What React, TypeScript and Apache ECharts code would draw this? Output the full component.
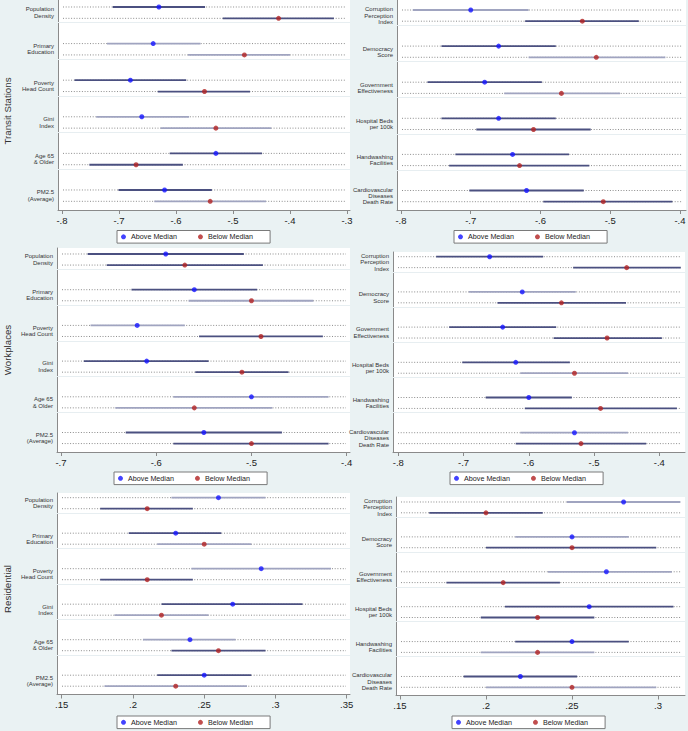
import React, { useEffect, useRef } from "react";
import * as echarts from "echarts";

// ---------- labels ----------
const rowTitles = ["Transit Stations", "Workplaces", "Residential"];
const socioLabels = [
  "Population\nDensity",
  "Primary\nEducation",
  "Poverty\nHead Count",
  "Gini\nIndex",
  "Age 65\n& Older",
  "PM2.5\n(Average)",
];
const healthLabels = [
  "Corruption\nPerception\nIndex",
  "Democracy\nScore",
  "Government\nEffectiveness",
  "Hospital Beds\nper 100k",
  "Handwashing\nFacilities",
  "Cardiovascular\nDiseases\nDeath Rate",
];
const legendNames = ["Above Median", "Below Median"];

// ---------- tick labels ----------
const ticksTransitSocio = [-0.8, -0.7, -0.6, -0.5, -0.4, -0.3];
const ticksTransitHealth = [-0.8, -0.7, -0.6, -0.5, -0.4];
const ticksWorkSocio = [-0.7, -0.6, -0.5, -0.4];
const ticksWorkHealth = [-0.8, -0.7, -0.6, -0.5, -0.4];
const ticksResSocio = [0.15, 0.2, 0.25, 0.3, 0.35];
const ticksResHealth = [0.15, 0.2, 0.25, 0.3];

// ---------- Transit Stations, socio-economic ----------
const transitSocioAbove = [-0.63, -0.64, -0.68, -0.66, -0.53, -0.62];
const transitSocioAboveCI = [[-0.711, -0.549], [-0.721, -0.557], [-0.778, -0.582], [-0.74, -0.577], [-0.611, -0.449], [-0.701, -0.537]];
const transitSocioBelow = [-0.42, -0.48, -0.55, -0.53, -0.67, -0.54];
const transitSocioBelowCI = [[-0.518, -0.323], [-0.579, -0.4], [-0.632, -0.47], [-0.627, -0.433], [-0.752, -0.588], [-0.638, -0.442]];
const transitSocioAboveDark = [1, 0, 1, 0, 1, 1];
const transitSocioBelowDark = [1, 0, 1, 0, 1, 0];

// ---------- Transit Stations, health / governance ----------
const transitHealthAbove = [-0.7, -0.66, -0.68, -0.66, -0.64, -0.62];
const transitHealthAboveCI = [[-0.783, -0.617], [-0.742, -0.578], [-0.762, -0.598], [-0.742, -0.578], [-0.722, -0.559], [-0.702, -0.538]];
const transitHealthBelow = [-0.54, -0.52, -0.57, -0.61, -0.63, -0.51];
const transitHealthBelowCI = [[-0.622, -0.459], [-0.617, -0.421], [-0.652, -0.486], [-0.692, -0.528], [-0.731, -0.53], [-0.596, -0.411]];
const transitHealthAboveDark = [0, 1, 1, 1, 1, 1];
const transitHealthBelowDark = [1, 0, 0, 1, 1, 1];

// ---------- Workplaces, socio-economic ----------
const workSocioAbove = [-0.59, -0.56, -0.62, -0.61, -0.5, -0.55];
const workSocioAboveCI = [[-0.672, -0.508], [-0.626, -0.494], [-0.669, -0.57], [-0.676, -0.545], [-0.582, -0.419], [-0.632, -0.468]];
const workSocioBelow = [-0.57, -0.5, -0.49, -0.51, -0.56, -0.5];
const workSocioBelowCI = [[-0.652, -0.488], [-0.566, -0.435], [-0.555, -0.425], [-0.559, -0.461], [-0.643, -0.478], [-0.582, -0.419]];
const workSocioAboveDark = [1, 1, 0, 1, 0, 1];
const workSocioBelowDark = [1, 0, 1, 1, 0, 1];

// ---------- Workplaces, health / governance ----------
const workHealthAbove = [-0.66, -0.61, -0.64, -0.62, -0.6, -0.53];
const workHealthAboveCI = [[-0.742, -0.578], [-0.692, -0.528], [-0.722, -0.558], [-0.702, -0.537], [-0.666, -0.534], [-0.613, -0.448]];
const workHealthBelow = [-0.45, -0.55, -0.48, -0.53, -0.49, -0.52];
const workHealthBelowCI = [[-0.532, -0.367], [-0.648, -0.451], [-0.562, -0.396], [-0.613, -0.448], [-0.606, -0.373], [-0.62, -0.42]];
const workHealthAboveDark = [1, 0, 1, 1, 1, 0];
const workHealthBelowDark = [1, 1, 1, 0, 1, 1];

// ---------- Residential, socio-economic ----------
const resSocioAbove = [0.26, 0.23, 0.29, 0.27, 0.24, 0.25];
const resSocioAboveCI = [[0.227, 0.293], [0.197, 0.262], [0.241, 0.339], [0.22, 0.319], [0.207, 0.272], [0.217, 0.283]];
const resSocioBelow = [0.21, 0.25, 0.21, 0.22, 0.26, 0.23];
const resSocioBelowCI = [[0.177, 0.242], [0.217, 0.283], [0.177, 0.242], [0.187, 0.253], [0.227, 0.293], [0.18, 0.28]];
const resSocioAboveDark = [0, 1, 0, 1, 0, 1];
const resSocioBelowDark = [1, 0, 1, 0, 1, 0];

// ---------- Residential, health / governance ----------
const resHealthAbove = [0.28, 0.25, 0.27, 0.26, 0.25, 0.22];
const resHealthAboveCI = [[0.247, 0.313], [0.217, 0.283], [0.236, 0.308], [0.211, 0.309], [0.217, 0.283], [0.187, 0.253]];
const resHealthBelow = [0.2, 0.25, 0.21, 0.23, 0.23, 0.25];
const resHealthBelowCI = [[0.167, 0.233], [0.2, 0.299], [0.177, 0.243], [0.197, 0.263], [0.197, 0.263], [0.2, 0.299]];
const resHealthAboveDark = [0, 0, 0, 1, 1, 1];
const resHealthBelowDark = [1, 1, 1, 1, 0, 0];

const FONT = "Liberation Sans";
const BLUE = "#1414ff";
const RED = "#b22222";
const CI_DARK = "#4b5080";
const CI_LIGHT = "#a0a4c0";

// panel layout (pixel boxes and axis extents)
const panels = [
  { labels: socioLabels, ticks: ticksTransitSocio, above: transitSocioAbove, aboveCI: transitSocioAboveCI, below: transitSocioBelow, belowCI: transitSocioBelowCI, aDark: transitSocioAboveDark, bDark: transitSocioBelowDark,
    box: { left: 58, top: 0, width: 292, height: 210 }, xMin: -0.807, xMax: -0.2947, yMin: 3.79, yMax: 61.17, leg: { left: 117, top: 230.5 } },
  { labels: healthLabels, ticks: ticksTransitHealth, above: transitHealthAbove, aboveCI: transitHealthAboveCI, below: transitHealthBelow, belowCI: transitHealthBelowCI, aDark: transitHealthAboveDark, bDark: transitHealthBelowDark,
    box: { left: 397, top: 0, width: 289, height: 210 }, xMin: -0.8057, xMax: -0.3914, yMin: 2.93, yMax: 61.1, leg: { left: 454, top: 230.5 } },
  { labels: socioLabels, ticks: ticksWorkSocio, above: workSocioAbove, aboveCI: workSocioAboveCI, below: workSocioBelow, belowCI: workSocioBelowCI, aDark: workSocioAboveDark, bDark: workSocioBelowDark,
    box: { left: 57, top: 248, width: 293, height: 204 }, xMin: -0.7042, xMax: -0.3965, yMin: 4.02, yMax: 61.16, leg: { left: 114, top: 472 } },
  { labels: healthLabels, ticks: ticksWorkHealth, above: workHealthAbove, aboveCI: workHealthAboveCI, below: workHealthBelow, belowCI: workHealthBelowCI, aDark: workHealthAboveDark, bDark: workHealthBelowDark,
    box: { left: 393, top: 252, width: 292, height: 200 }, xMin: -0.8081, xMax: -0.3606, yMin: 4.36, yMax: 61.18, leg: { left: 450, top: 472 } },
  { labels: socioLabels, ticks: ticksResSocio, above: resSocioAbove, aboveCI: resSocioAboveCI, below: resSocioBelow, belowCI: resSocioBelowCI, aDark: resSocioAboveDark, bDark: resSocioBelowDark,
    box: { left: 57, top: 493, width: 293, height: 201.5 }, xMin: 0.1467, xMax: 0.3523, yMin: 4.38, yMax: 61.14, leg: { left: 117, top: 716 } },
  { labels: healthLabels, ticks: ticksResHealth, above: resHealthAbove, aboveCI: resHealthAboveCI, below: resHealthBelow, belowCI: resHealthBelowCI, aDark: resHealthAboveDark, bDark: resHealthBelowDark,
    box: { left: 396, top: 497, width: 289, height: 198.5 }, xMin: 0.1477, xMax: 0.3157, yMin: 4.27, yMax: 61.15, leg: { left: 452, top: 716 } },
];

const titlePos = [
  { x: 7, y: 111 },
  { x: 7, y: 350 },
  { x: 7, y: 589 },
];

const ROW_A = 5.7; // position of "above" row inside a group band of 10
const ROW_B = 8.8; // position of "below" row
const LABEL_MID = (ROW_A + ROW_B) / 2;

function fmtTick(v: number) {
  const s = String(+v.toFixed(3));
  return s.replace(/^(-?)0\./, "$1.");
}

function buildOption() {
  const grid: any[] = [];
  const xAxis: any[] = [];
  const yAxis: any[] = [];
  const series: any[] = [];
  const legend: any[] = [];

  panels.forEach((p, i) => {
    grid.push({
      ...p.box,
      show: true,
      backgroundColor: "#ffffff",
      borderWidth: 0,
      containLabel: false,
      outerBoundsMode: "none",
    });
    xAxis.push({
      type: "value",
      gridIndex: i,
      min: p.xMin,
      max: p.xMax,
      axisLine: { show: true, lineStyle: { color: "#8a8a8a", width: 1 } },
      axisTick: { show: true, length: 4, customValues: p.ticks, lineStyle: { color: "#8a8a8a" } },
      axisLabel: { show: true, customValues: p.ticks, formatter: fmtTick, fontSize: 9.5, fontFamily: FONT, color: "#222", margin: 5 },
      splitLine: { show: false },
    });
    const labelVals = p.labels.map((_, g) => g * 10 + LABEL_MID);
    yAxis.push({
      type: "value",
      gridIndex: i,
      inverse: true,
      min: p.yMin,
      max: p.yMax,
      axisLine: { show: true, lineStyle: { color: "#8a8a8a", width: 1 } },
      axisTick: { show: false },
      splitLine: { show: false },
      axisLabel: {
        show: true,
        customValues: labelVals,
        formatter: (v: number) => p.labels[Math.round((v - LABEL_MID) / 10)] ?? "",
        fontSize: 6,
        lineHeight: 6.4,
        fontFamily: FONT,
        color: "#333",
        margin: 4,
        align: "right",
      },
    });

    const ciData: any[] = [];
    p.aboveCI.forEach((ci, g) => {
      ciData.push([ci[0], ci[1], g * 10 + ROW_A, p.aDark[g]]);
      ciData.push([p.belowCI[g][0], p.belowCI[g][1], g * 10 + ROW_B, p.bDark[g]]);
    });

    series.push({
      type: "custom",
      name: "ci",
      xAxisIndex: i,
      yAxisIndex: i,
      clip: false,
      silent: true,
      encode: { x: [0, 1], y: 2 },
      data: ciData,
      z: 2,
      renderItem: (params: any, api: any) => {
        const lo = api.value(0);
        const hi = api.value(1);
        const y = api.value(2);
        const dark = api.value(3);
        const p1 = api.coord([lo, y]);
        const p2 = api.coord([hi, y]);
        const cs = params.coordSys;
        return {
          type: "group",
          children: [
            {
              type: "line",
              shape: { x1: cs.x + 5, y1: p1[1], x2: cs.x + cs.width - 4, y2: p1[1] },
              style: { stroke: "#8c8c8c", lineWidth: 1, lineDash: [1, 1.7] },
            },
            {
              type: "line",
              shape: { x1: p1[0], y1: p1[1], x2: p2[0], y2: p2[1] },
              style: { stroke: dark ? CI_DARK : CI_LIGHT, lineWidth: 1.8 },
            },
          ],
        };
      },
    });

    series.push({
      type: "scatter",
      name: legendNames[0],
      xAxisIndex: i,
      yAxisIndex: i,
      symbol: "circle",
      symbolSize: 5,
      itemStyle: { color: BLUE },
      z: 3,
      data: p.above.map((v, g) => [v, g * 10 + ROW_A]),
      markLine: {
        silent: true,
        symbol: ["none", "none"],
        label: { show: false },
        lineStyle: { color: "#e7eef1", width: 1, type: "solid" },
        emphasis: { disabled: true },
        data: [10, 20, 30, 40, 50].map((v) => ({ yAxis: v })),
      },
    });
    series.push({
      type: "scatter",
      name: legendNames[1],
      xAxisIndex: i,
      yAxisIndex: i,
      symbol: "circle",
      symbolSize: 5,
      itemStyle: { color: RED },
      z: 3,
      data: p.below.map((v, g) => [v, g * 10 + ROW_B]),
    });

    legend.push({
      left: p.leg.left,
      top: p.leg.top,
      orient: "horizontal",
      icon: "circle",
      itemWidth: 5,
      itemHeight: 5,
      itemGap: 21,
      padding: [2, 17, 2, 4],
      borderColor: "#7a7a7a",
      borderWidth: 1,
      borderRadius: 0,
      backgroundColor: "#ffffff",
      selectedMode: false,
      textStyle: { fontSize: 7.2, fontFamily: FONT, color: "#222", lineHeight: 8.6 },
      data: legendNames,
    });
  });

  const graphic = rowTitles.map((t, r) => ({
    type: "text",
    x: titlePos[r].x,
    y: titlePos[r].y,
    rotation: Math.PI / 2,
    style: {
      text: t,
      fontSize: 9.7,
      fontFamily: FONT,
      fill: "#333",
      align: "center",
      verticalAlign: "middle",
    },
  }));

  return {
    animation: false,
    backgroundColor: "#eaf2f3",
    textStyle: { fontFamily: FONT },
    grid,
    xAxis,
    yAxis,
    series,
    legend,
    graphic,
  };
}

export default function App() {
  const ref = useRef<HTMLDivElement>(null);
  useEffect(() => {
    if (!ref.current) return;
    const chart = echarts.init(ref.current, undefined, { renderer: "svg" });
    chart.setOption(buildOption() as any);
    return () => chart.dispose();
  }, []);
  return (
    <div
      ref={ref}
      style={{ position: "absolute", left: 0, top: 0, width: 688, height: 731 }}
    />
  );
}
